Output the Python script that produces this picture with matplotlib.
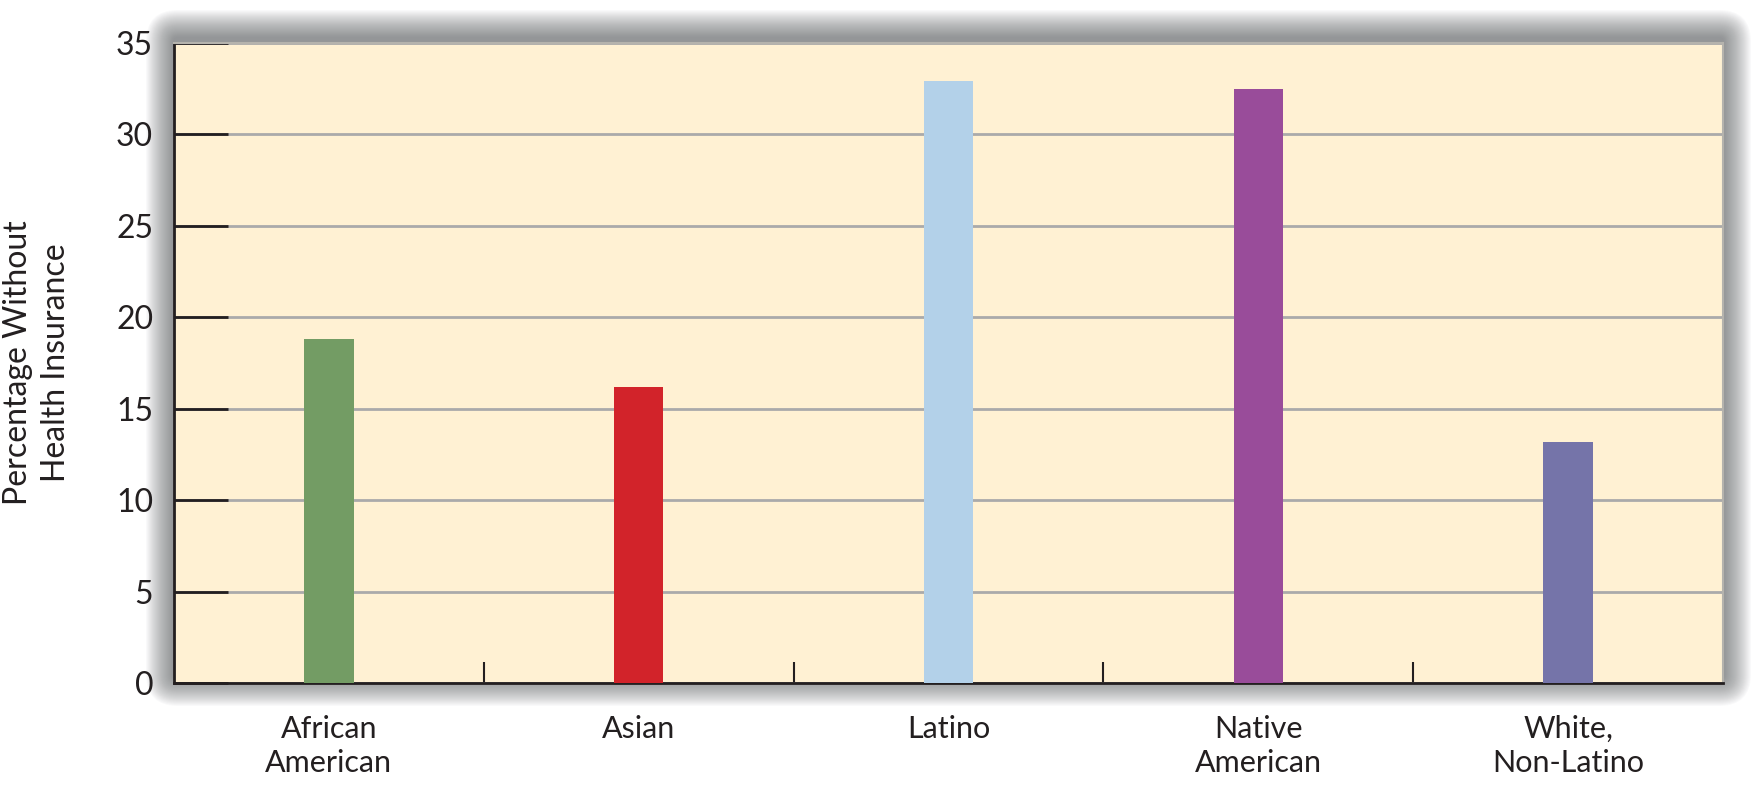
import numpy as np
import matplotlib
matplotlib.use("Agg")
import matplotlib.pyplot as plt
from matplotlib.patches import FancyBboxPatch
from matplotlib.transforms import IdentityTransform
from matplotlib.ticker import FixedLocator

plt.rcParams['font.family'] = ['Lato', 'DejaVu Sans']

groups = ["African\nAmerican", "Asian", "Latino", "Native\nAmerican", "White,\nNon-Latino"]
pct_uninsured = [18.8, 16.2, 32.9, 32.5, 13.2]
bar_colors = ["#739c64", "#d2232a", "#b3d1e9", "#994c9a", "#7574a9"]
y_ticks = [0, 5, 10, 15, 20, 25, 30, 35]

W, H, DPI = 1763, 787, 100
fig = plt.figure(figsize=(W / DPI, H / DPI), dpi=DPI)
fig.patch.set_facecolor("white")

# axes box in pixels (left, top, right, bottom from the top of the image)
L, T, R, B = 174, 43, 1723, 683
ax = fig.add_axes([L / W, 1 - B / H, (R - L) / W, (B - T) / H])
ax.set_facecolor("#fff1d3")

# soft drop shadow round the plot box, a little stronger above than below
n = 28
for i in range(n, 0, -1):
    d = i
    sh = FancyBboxPatch((L - d, H - B - d + 5), (R - L) + 2 * d, (B - T) + 2 * d,
                        boxstyle="round,pad=0,rounding_size=%d" % (d + 4),
                        transform=IdentityTransform(), facecolor="#5a5c60",
                        edgecolor="none", alpha=0.03, zorder=-10)
    fig.patches.append(sh)

x = np.arange(len(groups))
ax.bar(x, pct_uninsured, width=0.16, color=bar_colors, zorder=3)

ax.set_xlim(-0.5, len(groups) - 0.5)
ax.set_ylim(0, 35)
ax.set_yticks(y_ticks)
ax.yaxis.grid(True, color="#aaaaaa", linewidth=2, zorder=1)
ax.set_axisbelow(True)

ax.set_xticks(x)
ax.set_xticklabels(groups, fontsize=22, color="#231f20", linespacing=1.25)
ax.xaxis.set_minor_locator(FixedLocator(x[:-1] + 0.5))
ax.tick_params(axis="x", which="major", length=0, pad=23)
ax.tick_params(axis="x", which="minor", direction="in", length=15, width=1.5, color="#231f20")
ax.tick_params(axis="y", direction="in", length=39, width=2, color="#231f20",
               labelsize=23, labelcolor="#231f20", pad=15)

for side in ["left", "bottom"]:
    ax.spines[side].set_color("#231f20")
    ax.spines[side].set_linewidth(2)
for side in ["top", "right"]:
    ax.spines[side].set_color("#b5b3ad")
    ax.spines[side].set_linewidth(1.5)

fig.text(0.021, 1 - 363 / H, "Percentage Without\nHealth Insurance", rotation=90,
         ha="center", va="center", fontsize=23, color="#231f20", linespacing=1.3)

fig.savefig("out.png", dpi=DPI)
